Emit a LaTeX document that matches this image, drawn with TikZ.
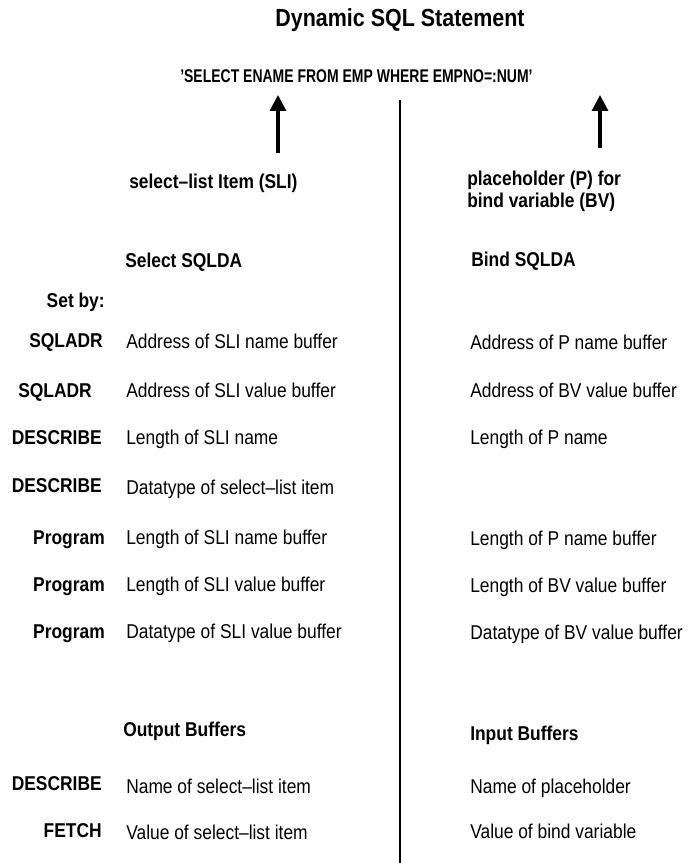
\documentclass[tikz,border=0pt]{standalone}
\usepackage{fontspec}
\setmainfont{Liberation Sans}[FakeStretch=0.87]
\newfontfamily\sqlfont{Liberation Sans}[FakeStretch=0.76,Ligatures=TeX]
\usetikzlibrary{arrows.meta}
\tikzset{
  body/.style={inner sep=0pt, font=\fontsize{15}{16.5}\selectfont},
  desc/.style={body, anchor=base west},
  setby/.style={body, anchor=base east, font=\fontsize{15}{16.5}\selectfont\bfseries},
  head/.style={body, anchor=base west, font=\fontsize{15}{16.5}\selectfont\bfseries},
  bigarrow/.style={line width=2.4pt, -{Triangle[width=12pt,length=12pt]}},
  divider/.style={line width=1.9pt}
}
\begin{document}
\begin{tikzpicture}[x=0.75pt,y=-0.75pt]
\useasboundingbox (0,0) rectangle (688,863);
% title and statement
\node[inner sep=0pt, anchor=base, font=\fontsize{18.5}{22}\selectfont\bfseries] (title) at (400,27) {Dynamic SQL Statement};
\node[inner sep=0pt, anchor=base west, font=\sqlfont\fontsize{13.8}{15}\selectfont\bfseries] (sql) at (180,83) {’SELECT ENAME FROM EMP WHERE EMPNO=:NUM’};
% arrows
\coordinate (a1s) at (278,153);
\coordinate (a1e) at (278,95);
\coordinate (a2s) at (600,148);
\coordinate (a2e) at (600,95);
\draw[bigarrow] (a1s) -- (a1e);
\draw[bigarrow] (a2s) -- (a2e);
% divider
\coordinate (dtop) at (400,100);
\coordinate (dbot) at (400,863);
\draw[divider] (dtop) -- (dbot);
% labels under arrows
\node[head] (sli) at (129,189) {select–list Item (SLI)};
\node[head, anchor=base west, align=left] (ph) at (467,207) {placeholder (P) for\\bind variable (BV)};
% SQLDA headings
\node[head] (selsqlda) at (125,267) {Select SQLDA};
\node[head] (bindsqlda) at (471,266) {Bind SQLDA};
\node[setby] (setby) at (105,307) {Set by:};
% select rows
\node[setby] (l1) at (103,347) {SQLADR};
\node[desc] (d1) at (126,348) {Address of SLI name buffer};
\node[setby] (l2) at (92,397) {SQLADR};
\node[desc] (d2) at (126,397) {Address of SLI value buffer};
\node[setby] (l3) at (102,444) {DESCRIBE};
\node[desc] (d3) at (126,444) {Length of SLI name};
\node[setby] (l4) at (102,492) {DESCRIBE};
\node[desc] (d4) at (126,494) {Datatype of select–list item};
\node[setby] (l5) at (105,544) {Program};
\node[desc] (d5) at (126,544) {Length of SLI name buffer};
\node[setby] (l6) at (105,591) {Program};
\node[desc] (d6) at (126,591) {Length of SLI value buffer};
\node[setby] (l7) at (105,638) {Program};
\node[desc] (d7) at (126,638) {Datatype of SLI value buffer};
% bind rows
\node[desc] (b1) at (470,349) {Address of P name buffer};
\node[desc] (b2) at (470,397) {Address of BV value buffer};
\node[desc] (b3) at (470,444) {Length of P name};
\node[desc] (b5) at (470,545) {Length of P name buffer};
\node[desc] (b6) at (470,592) {Length of BV value buffer};
\node[desc] (b7) at (470,639) {Datatype of BV value buffer};
% buffers
\node[head] (outbuf) at (123,736) {Output Buffers};
\node[head] (inbuf) at (470,740) {Input Buffers};
\node[setby] (o1) at (102,790) {DESCRIBE};
\node[desc] (od1) at (126,793) {Name of select–list item};
\node[setby] (o2) at (102,837) {FETCH};
\node[desc] (od2) at (126,839) {Value of select–list item};
\node[desc] (i1) at (470,793) {Name of placeholder};
\node[desc] (i2) at (470,838) {Value of bind variable};
\end{tikzpicture}
\end{document}
